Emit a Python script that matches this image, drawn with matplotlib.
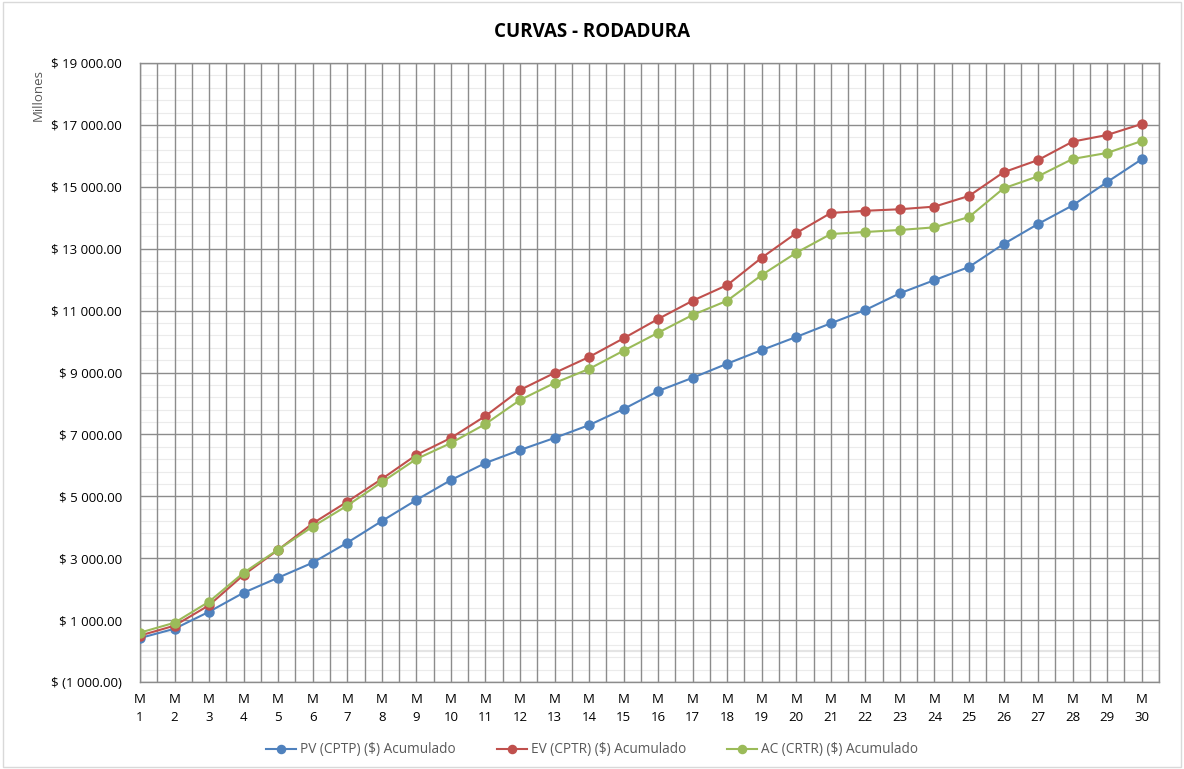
import matplotlib
matplotlib.use("Agg")
import matplotlib.pyplot as plt
from matplotlib.ticker import FuncFormatter, MultipleLocator
from matplotlib.patches import Rectangle

months = [f"M\n{i}" for i in range(1, 31)]
pv = [420, 720, 1270, 1885, 2370, 2855, 3500, 4200, 4880, 5525, 6075, 6495, 6885, 7300, 7820,
      8400, 8830, 9285, 9725, 10150, 10590, 11020, 11560, 11985, 12410, 13150, 13800, 14400, 15155, 15890]
ev = [500, 820, 1480, 2460, 3270, 4125, 4825, 5560, 6335, 6885, 7595, 8435, 8985, 9500, 10105,
      10730, 11320, 11825, 12710, 13505, 14155, 14225, 14275, 14360, 14705, 15470, 15865, 16460, 16675, 17030]
ac = [595, 915, 1595, 2530, 3280, 4020, 4700, 5455, 6205, 6720, 7335, 8110, 8660, 9115, 9705,
      10285, 10860, 11320, 12150, 12870, 13475, 13540, 13605, 13690, 14025, 14950, 15340, 15900, 16095, 16480]
labels = ["PV (CPTP) ($) Acumulado", "EV (CPTR) ($) Acumulado", "AC (CRTR) ($) Acumulado"]
colors = ["#4F81BD", "#C0504D", "#9BBB59"]

plt.rcParams['font.family'] = ['Open Sans', 'DejaVu Sans']

fig = plt.figure(figsize=(11.84, 7.69), dpi=100)
ax = fig.add_axes([140/1184, 1-682/769, (1159-140)/1184, (682-63)/769])

x = list(range(1, 31))
for series, lab, col in zip([pv, ev, ac], labels, colors):
    ax.plot(x, series, color=col, lw=1.5, marker='o', ms=6.5, label=lab, zorder=3)

ax.set_xlim(1, 30.5)
ax.set_ylim(-1000, 19000)
ax.set_yticks(list(range(-1000, 19001, 2000)))

def fmt(v, pos):
    s = f"{abs(v):,.2f}".replace(",", " ")
    return f"$ ({s})" if v < 0 else f"$ {s}"
ax.yaxis.set_major_formatter(FuncFormatter(fmt))
ax.minorticks_off()

ax.set_xticks(x)
ax.set_xticklabels(months, fontsize=9.5, color="#000000", linespacing=1.5)
ax.tick_params(axis='both', which='both', length=0, labelsize=9.5, colors="#000000")
ax.tick_params(axis='x', pad=8)
ax.tick_params(axis='y', pad=13)

# gridlines
for h in range(-1000, 19001, 400):
    if (h + 1000) % 2000 == 0:
        continue
    ax.axhline(h, color="#EBEBEB", lw=0.8, zorder=0)
ax.axhline(0, color="#E4E4E4", lw=1.6, zorder=0)
for h in range(-1000, 19001, 2000):
    ax.axhline(h, color="#8C8C8C", lw=1.0, zorder=1)
for i in range(0, 60):
    v = 1 + i * 0.5
    ax.axvline(v, color="#8C8C8C", lw=1.0, zorder=1)

for s in ax.spines.values():
    s.set_color("#8C8C8C")
    s.set_linewidth(1.0)

fig.text(0.5, 1-32/769, "CURVAS - RODADURA", ha='center', va='center', fontsize=13.5, fontweight='bold')
fig.text(38/1184, 1-95/769, "Millones", rotation=90, ha='center', va='center', fontsize=9.5, color="#595959")

leg = fig.legend(loc='center', bbox_to_anchor=(0.5, 1-750/769), ncol=3, frameon=False,
                 fontsize=9.8, handlelength=2.2, handletextpad=0.3, columnspacing=3.0, markerscale=0.9)
for t in leg.get_texts():
    t.set_color("#595959")

fig.patches.append(Rectangle((3/1184, 2/769), 1-6/1184, 1-4/769, transform=fig.transFigure,
                             fill=False, edgecolor="#D9D9D9", lw=1.0))

fig.savefig("out.png", dpi=100)
